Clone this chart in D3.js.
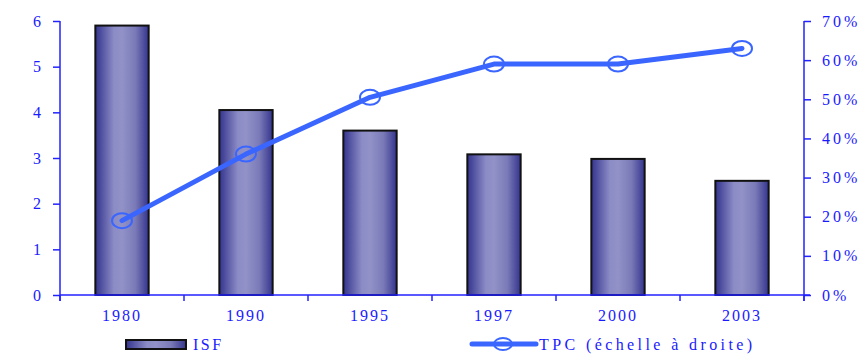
<!DOCTYPE html>
<html>
<head>
<meta charset="utf-8">
<script src="https://cdn.jsdelivr.net/npm/d3@7/dist/d3.min.js"></script>
<style>
  html, body { margin: 0; padding: 0; background: #fff; }
  svg text { font-family: "Liberation Serif", "DejaVu Serif", serif; fill: #1a1aff; }
</style>
</head>
<body>
<svg id="chart" width="866" height="354"></svg>
<script>
// Years, fertility (ISF, left scale) and contraceptive prevalence (TPC, right scale)
const years = ["1980", "1990", "1995", "1997", "2000", "2003"];
const isf = [5.9, 4.05, 3.6, 3.08, 2.98, 2.5];
const tpc = [0.19, 0.36, 0.505, 0.59, 0.59, 0.63];
const leftTicks = [0, 1, 2, 3, 4, 5, 6];
const rightTicks = [0, 0.1, 0.2, 0.3, 0.4, 0.5, 0.6, 0.7];

const svg = d3.select("#chart");
const axisColor = "#2222ff";
const lineColor = "#3a66ff";

const x0 = 60, x1 = 804, yTop = 21, yBot = 295;

const x = d3.scaleBand().domain(years).range([x0, x1]).paddingInner(0.57).paddingOuter(0.285);
const yL = d3.scaleLinear().domain([0, 6]).range([yBot, yTop]);
const yR = d3.scaleLinear().domain([0, 0.7]).range([yBot, yTop]);

// Cylinder-like horizontal shading for bars
const defs = svg.append("defs");
const grad = defs.append("linearGradient").attr("id", "barGrad")
  .attr("x1", "0%").attr("x2", "100%").attr("y1", "0%").attr("y2", "0%");
[[0, "#34348e"], [0.35, "#8c8cc6"], [0.5, "#9292c8"], [0.75, "#7a7ab8"], [1, "#34348e"]]
  .forEach(([o, c]) => grad.append("stop").attr("offset", o).attr("stop-color", c));

// Bars
svg.append("g").selectAll("rect").data(years).join("rect")
  .attr("x", d => x(d))
  .attr("y", (d, i) => yL(isf[i]))
  .attr("width", x.bandwidth())
  .attr("height", (d, i) => yBot - yL(isf[i]))
  .attr("fill", "url(#barGrad)")
  .attr("stroke", "#111")
  .attr("stroke-width", 2);

// Left axis
const gL = svg.append("g").attr("transform", `translate(${x0},0)`)
  .call(d3.axisLeft(yL).tickValues(leftTicks).tickFormat(d3.format("d")).tickSize(7).tickPadding(12));
// Right axis
const gR = svg.append("g").attr("transform", `translate(${x1},0)`)
  .call(d3.axisRight(yR).tickValues(rightTicks).tickFormat(d3.format(".0%")).tickSize(7).tickPadding(11));
// Bottom axis with ticks at category boundaries
const gB = svg.append("g").attr("transform", `translate(0,${yBot})`);
const boundaries = d3.range(years.length + 1).map(i => x0 + i * x.step());
gB.append("line").attr("x1", x0).attr("x2", x1 + 6).attr("y1", 0).attr("y2", 0)
  .attr("stroke", axisColor).attr("stroke-width", 1.5);
gB.selectAll("line.tk").data(boundaries).join("line").attr("class", "tk")
  .attr("x1", d => d).attr("x2", d => d).attr("y1", 0).attr("y2", 6)
  .attr("stroke", axisColor).attr("stroke-width", 1.5);
gB.selectAll("text").data(years).join("text")
  .attr("x", d => x(d) + x.bandwidth() / 2)
  .attr("y", 26)
  .attr("text-anchor", "middle")
  .attr("font-size", 16)
  .attr("letter-spacing", 2)
  .text(d => d);

[gL, gR].forEach(g => {
  g.select(".domain").attr("stroke", axisColor).attr("stroke-width", 1.5);
  g.selectAll(".tick line").attr("stroke", axisColor).attr("stroke-width", 1.5);
  g.selectAll(".tick text").attr("font-size", 16).style("fill", "#1a1aff");
});
gR.selectAll(".tick text").attr("letter-spacing", 3);
// Axis lines run slightly past the zero line
gL.select(".domain").attr("d", `M0,${yTop}V${yBot + 6}`);
gR.select(".domain").attr("d", `M0,${yTop}V${yBot + 6}`);

// TPC line
const cx = (d, i) => x(years[i]) + x.bandwidth() / 2;
svg.append("path").datum(tpc)
  .attr("d", d3.line().x((d, i) => cx(d, i)).y(d => yR(d)))
  .attr("fill", "none").attr("stroke", lineColor).attr("stroke-width", 5)
  .attr("stroke-linejoin", "round").attr("stroke-linecap", "round");
svg.append("g").selectAll("ellipse").data(tpc).join("ellipse")
  .attr("cx", (d, i) => cx(d, i)).attr("cy", d => yR(d))
  .attr("rx", 10).attr("ry", 7.5)
  .attr("fill", "none").attr("stroke", lineColor).attr("stroke-width", 2);

// Legend
const leg = svg.append("g");
leg.append("rect").attr("x", 126).attr("y", 340).attr("width", 60).attr("height", 9)
  .attr("fill", "url(#barGrad)").attr("stroke", "#111").attr("stroke-width", 2);
leg.append("text").attr("x", 193).attr("y", 350).attr("font-size", 16).attr("letter-spacing", 2.5).text("ISF");
leg.append("line").attr("x1", 472).attr("x2", 536).attr("y1", 344).attr("y2", 344)
  .attr("stroke", lineColor).attr("stroke-width", 5).attr("stroke-linecap", "round");
leg.append("ellipse").attr("cx", 503).attr("cy", 344).attr("rx", 9).attr("ry", 6)
  .attr("fill", "none").attr("stroke", lineColor).attr("stroke-width", 2);
leg.append("text").attr("x", 539).attr("y", 350).attr("font-size", 16).attr("letter-spacing", 3.4)
  .text("TPC (échelle à droite)");
</script>
</body>
</html>
